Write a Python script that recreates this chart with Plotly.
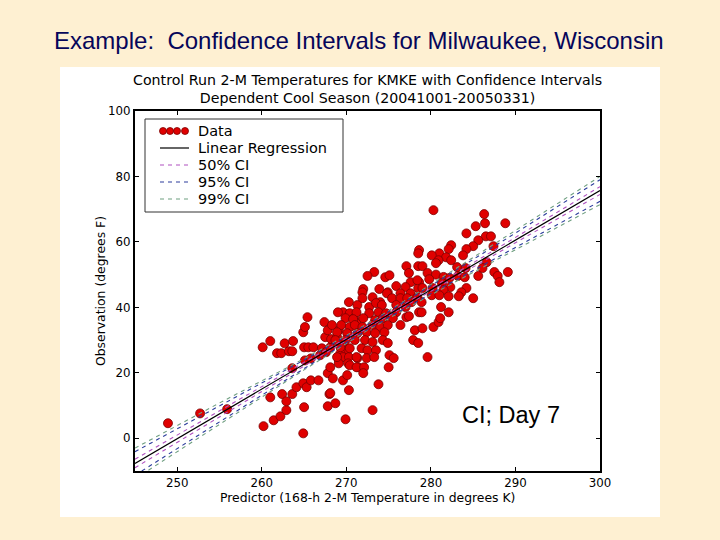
import plotly.graph_objects as go

# ---------------- data ----------------
obs_x = [248.9, 252.7, 255.9, 260.2, 261.0, 261.4, 262.2, 262.9, 262.4, 262.9, 263.6, 264.1, 264.9, 265.3,
         265.0, 264.9, 265.8, 266.7, 267.8, 268.0, 269.9, 268.7, 268.1, 270.3, 263.6, 267.8, 268.4, 269.6,
         270.1, 260.1, 261.0, 262.7, 263.7, 261.8, 262.3, 263.2, 263.6, 265.0, 265.5, 266.1, 267.1, 265.1,
         265.8, 266.9, 267.6, 268.1, 264.9, 265.1, 265.4, 267.4, 270.3, 267.5, 268.2, 269.1, 267.8, 268.9,
         269.6, 270.1, 269.3, 269.1, 269.6, 270.3, 269.1, 270.2, 271.3, 271.4, 268.1, 269.6, 270.4, 269.0,
         269.9, 270.9, 268.3, 269.4, 270.4, 271.2, 277.1, 278.5, 279.0, 277.4, 279.6, 273.3, 272.5, 274.6,
         275.1, 277.6, 278.6, 275.9, 277.0, 278.5, 272.0, 273.9, 274.9, 271.9, 276.4, 277.6, 274.8, 271.9,
         273.1, 274.0, 275.4, 276.4, 277.2, 277.7, 278.4, 271.3, 272.7, 273.5, 274.2, 275.9, 277.0, 271.2,
         272.7, 273.8, 274.7, 275.9, 278.6, 270.8, 272.0, 273.4, 274.3, 275.5, 277.1, 271.0, 271.9, 273.1,
         274.0, 274.9, 276.4, 278.1, 279.0, 268.9, 270.1, 271.3, 272.4, 273.4, 274.5, 268.7, 269.9, 271.0,
         272.2, 273.1, 274.3, 274.9, 277.9, 278.5, 269.3, 270.4, 271.8, 272.5, 273.5, 279.6, 268.9, 271.2,
         272.4, 273.3, 275.1, 275.6, 270.4, 271.2, 272.1, 275.0, 272.0, 280.3, 286.3, 286.4, 288.8, 285.3,
         284.2, 286.5, 287.1, 285.6, 285.0, 284.2, 287.4, 282.4, 282.1, 278.6, 278.5, 281.0, 280.1, 283.8,
         281.8, 282.4, 280.9, 280.6, 286.6, 283.1, 284.1, 286.1, 287.5, 289.1, 287.9, 288.1, 285.6, 280.6,
         281.5, 282.2, 283.2, 278.4, 279.8, 281.3, 282.3, 284.0, 280.2, 281.5, 284.2, 279.0, 283.6, 283.3,
         280.1, 281.0, 282.1, 285.0, 278.9, 281.2, 282.1, 278.9, 277.4, 280.3, 280.9, 281.1, 273.1, 273.8]
obs_y = [4.6, 7.6, 8.9, 3.7, 12.5, 5.5, 6.7, 8.6, 13.5, 11.3, 13.5, 15.6, 16.8, 15.6,
         9.5, 1.5, 17.7, 17.7, 9.8, 13.5, 5.8, 10.7, 13.8, 14.7, 21.4, 19.9, 18.3, 17.7,
         19.3, 27.8, 29.7, 29.0, 29.7, 26.0, 26.0, 26.6, 26.6, 27.8, 27.8, 27.8, 27.5, 23.8,
         24.4, 25.4, 26.3, 27.8, 32.4, 34.0, 37.0, 35.5, 41.6, 30.9, 30.3, 33.0, 33.0, 30.9,
         29.1, 26.9, 26.0, 23.9, 24.8, 24.8, 22.9, 22.9, 24.5, 21.7, 21.7, 38.5, 38.2, 38.5,
         36.7, 36.7, 34.6, 34.6, 34.0, 35.2, 52.6, 52.6, 52.6, 50.5, 50.5, 50.8, 49.6, 49.2,
         49.8, 47.7, 47.7, 46.5, 46.2, 45.9, 45.6, 45.6, 44.6, 44.6, 44.3, 44.3, 44.3, 42.8,
         43.1, 41.6, 42.8, 42.8, 42.8, 41.6, 43.1, 40.7, 40.1, 41.3, 40.7, 40.7, 40.1, 38.5,
         38.2, 38.5, 38.2, 38.5, 38.5, 36.4, 36.7, 36.1, 36.7, 36.7, 37.0, 34.6, 34.0, 34.6,
         34.0, 34.6, 34.6, 33.0, 33.6, 32.4, 32.1, 32.1, 32.4, 32.1, 32.4, 30.0, 30.0, 30.0,
         30.0, 29.4, 30.0, 29.1, 30.0, 29.1, 27.8, 27.5, 27.5, 26.9, 26.9, 24.8, 24.8, 24.8,
         24.5, 24.8, 25.4, 24.5, 22.3, 21.7, 21.7, 21.7, 19.9, 69.7, 68.5, 65.7, 65.7, 64.8,
         62.6, 61.7, 61.7, 60.5, 58.7, 57.8, 58.7, 59.0, 57.8, 57.5, 56.5, 56.5, 55.9, 55.9,
         55.3, 54.4, 54.4, 53.5, 53.8, 52.3, 52.0, 52.0, 50.8, 50.8, 49.6, 47.7, 49.6, 50.0,
         49.3, 49.0, 49.6, 48.3, 48.6, 47.4, 46.2, 49.2, 45.9, 45.3, 45.9, 45.9, 44.6, 43.4,
         43.7, 43.7, 43.4, 42.8, 41.6, 40.1, 38.5, 38.5, 37.3, 34.0, 35.5, 36.7, 8.6, 16.5]

# regression line and confidence-interval half widths, read at these predictor values
fit_x = [245, 255, 265, 272.5, 280, 290, 300]
fit_y = [-7.7, 7.5, 22.6, 34.0, 45.4, 60.5, 75.7]
ci50_hw = [1.3, 0.9, 0.5, 0.3, 0.45, 0.8, 1.2]
ci95_hw = [3.6, 2.5, 1.3, 0.8, 1.2, 2.2, 3.3]
ci99_hw = [4.7, 3.3, 1.7, 1.0, 1.6, 2.9, 4.3]

x_ticks = [250, 260, 270, 280, 290, 300]
y_ticks = [0, 20, 40, 60, 80, 100]

legend_labels = ["Data", "Linear Regression", "50% CI", "95% CI", "99% CI"]

# ---------------- styles ----------------
BG = "#FEF0D2"
C50 = "#b050c0"
C95 = "#2c3c9c"
C99 = "#6f9f80"
DASH = "4px,4px"
MPL = "DejaVu Sans"

fig = go.Figure()

fig.add_trace(go.Scatter(
    x=obs_x, y=obs_y, mode="markers", name="Data",
    marker=dict(size=9, color="#e00000", line=dict(color="#7a0000", width=0.8)),
    showlegend=False))

for hw, col in [(ci99_hw, C99), (ci95_hw, C95), (ci50_hw, C50)]:
    up = [a + b for a, b in zip(fit_y, hw)]
    lo = [a - b for a, b in zip(fit_y, hw)]
    for arr in (up, lo):
        fig.add_trace(go.Scatter(x=fit_x, y=arr, mode="lines", showlegend=False,
                                 line=dict(color=col, width=1.1, dash=DASH)))

fig.add_trace(go.Scatter(x=fit_x, y=fit_y, mode="lines", showlegend=False,
                         line=dict(color="black", width=1.2)))

# plot area in pixels: x 135..600, y 111..471
L, R, T, B = 135, 600, 111, 471


def px(v):
    return (v - L) / (R - L)


def py(v):
    return (B - v) / (B - T)


shapes = []
# white picture area on the slide
shapes.append(dict(type="rect", xref="paper", yref="paper", layer="below",
                   x0=px(60), x1=px(660), y0=py(517), y1=py(67),
                   fillcolor="white", line=dict(width=0)))
# legend box
shapes.append(dict(type="rect", xref="paper", yref="paper",
                   x0=px(145), x1=px(343), y0=py(212), y1=py(119),
                   fillcolor="white", line=dict(color="#333333", width=1)))
row_y = [131, 148, 165, 182, 199]
for cx in [163, 170, 177, 185]:
    shapes.append(dict(type="circle", xref="paper", yref="paper",
                       x0=px(cx - 3.5), x1=px(cx + 3.5), y0=py(row_y[0] + 3.5), y1=py(row_y[0] - 3.5),
                       fillcolor="#e00000", line=dict(color="#7a0000", width=0.8)))
shapes.append(dict(type="line", xref="paper", yref="paper",
                   x0=px(160), x1=px(189), y0=py(row_y[1]), y1=py(row_y[1]),
                   line=dict(color="black", width=1.2)))
for ry, col in zip(row_y[2:], [C50, C95, C99]):
    shapes.append(dict(type="line", xref="paper", yref="paper",
                       x0=px(160), x1=px(189), y0=py(ry), y1=py(ry),
                       line=dict(color=col, width=1.2, dash=DASH)))

annotations = []
for ry, lab in zip(row_y, legend_labels):
    annotations.append(dict(x=px(196), y=py(ry), xref="paper", yref="paper", text=lab,
                            showarrow=False, xanchor="left", yanchor="middle",
                            font=dict(family=MPL, size=14.5, color="black")))
# slide title
annotations.append(dict(x=px(359), y=py(40), xref="paper", yref="paper",
                        text="Example:  Confidence Intervals for Milwaukee, Wisconsin",
                        showarrow=False, xanchor="center", yanchor="middle",
                        font=dict(family="Liberation Sans", size=24, color="#06065a")))
# chart title (two lines, one text block)
annotations.append(dict(x=0.5, y=py(88.5), xref="paper", yref="paper",
                        text="Control Run 2-M Temperatures for KMKE with Confidence Intervals"
                             "<br>Dependent Cool Season (20041001-20050331)",
                        showarrow=False, xanchor="center", yanchor="middle", align="center",
                        font=dict(family=MPL, size=14.2, color="black")))
# axis titles
annotations.append(dict(x=0.5, y=py(497), xref="paper", yref="paper",
                        text="Predictor (168-h 2-M Temperature in degrees K)",
                        showarrow=False, xanchor="center", yanchor="middle",
                        font=dict(family=MPL, size=12.4, color="black")))
annotations.append(dict(x=px(100), y=0.5, xref="paper", yref="paper",
                        text="Observation (degrees F)", textangle=-90,
                        showarrow=False, xanchor="center", yanchor="middle",
                        font=dict(family=MPL, size=12.4, color="black")))
# slide text box
annotations.append(dict(x=px(511), y=py(415), xref="paper", yref="paper",
                        text="CI; Day 7", showarrow=False, xanchor="center", yanchor="middle",
                        font=dict(family="Liberation Sans", size=23.5, color="black")))

axis_common = dict(showline=True, linecolor="black", linewidth=2, mirror="ticks",
                   ticks="inside", ticklen=4, tickwidth=1, tickcolor="black",
                   showgrid=False, zeroline=False,
                   tickfont=dict(family=MPL, size=11.8, color="black"))

fig.update_layout(
    width=720, height=540,
    margin=dict(l=L, r=720 - R, t=T, b=540 - B),
    paper_bgcolor=BG, plot_bgcolor="white",
    xaxis=dict(range=[245, 300], tickvals=x_ticks, ticktext=[str(v) for v in x_ticks],
               ticklabelstandoff=0, **axis_common),
    yaxis=dict(range=[-10, 100], tickvals=y_ticks, ticktext=[str(v) for v in y_ticks], **axis_common),
    shapes=shapes, annotations=annotations, showlegend=False,
)

fig.write_html("out.html", config={"displayModeBar": False},
               post_script="document.body.style.margin='0px';")
